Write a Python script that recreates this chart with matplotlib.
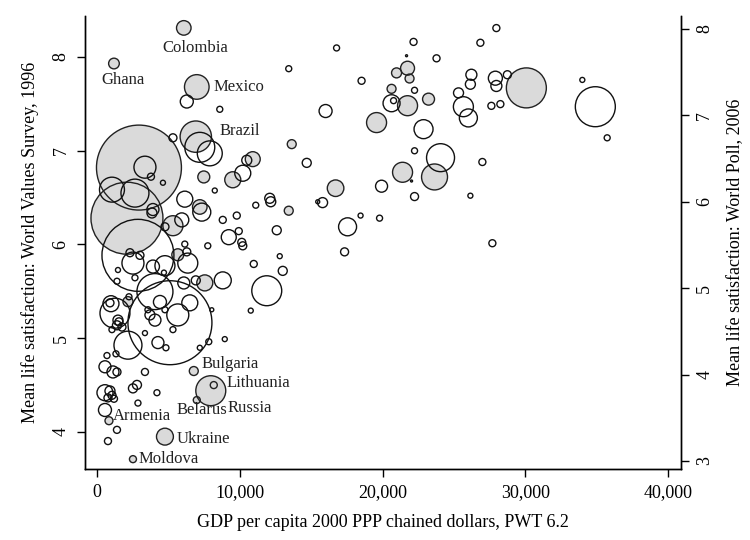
import numpy as np
import matplotlib
matplotlib.use("Agg")
import matplotlib.pyplot as plt
from matplotlib.ticker import FuncFormatter

plt.rcParams['font.family'] = ['Liberation Serif', 'DejaVu Serif']

# World Values Survey 1996 (grey, left axis): GDP, satisfaction, population (millions)
wvs_names = ['Colombia', 'Ghana', 'Mexico', 'Brazil', 'China', 'India',
             '', '', '', '', '', '', '', '', '', '', '', '', '', '', '', '', '', '', '', '', '',
             'Bulgaria', 'Russia', 'Lithuania', 'Belarus', 'Ukraine', 'Moldova', 'Armenia']
wvs_gdp = [6080, 1190, 6990, 6920, 2940, 2100,
           13640, 13430, 16710, 7200, 7480, 9510, 10910, 19580, 21750, 20980, 21750,
           21890, 20630, 23220, 30070, 21400, 23640, 7550, 5660, 5320, 2170,
           6780, 7970, 8180, 6990, 4760, 2520, 840]
wvs_sat = [8.31, 7.93, 7.68, 7.15, 6.82, 6.28,
           7.07, 6.36, 6.60, 6.40, 6.72, 6.69, 6.91, 7.30, 7.48, 7.83, 7.88,
           7.77, 7.66, 7.55, 7.67, 6.77, 6.72, 5.59, 5.89, 6.20, 5.39,
           4.65, 4.44, 4.50, 4.34, 3.95, 3.71, 4.12]
wvs_pop = [37, 20, 106, 172, 1264, 907,
           14, 14, 48, 37, 25, 45, 39, 70, 70, 17.5, 34,
           14, 14, 25, 280, 70, 118, 45, 25, 70, 17.5,
           14, 157, 8.6, 8.6, 50, 8.6, 11]

# label offsets in points (dx, dy, ha)
label_pos = {
    'Colombia': (8.6, -14.4, 'center'),
    'Ghana': (6.5, -12.2, 'center'),
    'Mexico': (12, 0, 'left'),
    'Brazil': (17, 4.3, 'left'),
    'Bulgaria': (5.8, 5, 'left'),
    'Lithuania': (9.4, 1.4, 'left'),
    'Russia': (12.2, -12.2, 'left'),
    'Belarus': (-14.4, -7.2, 'left'),
    'Armenia': (2.9, 3.6, 'left'),
    'Ukraine': (8.6, -1.4, 'left'),
    'Moldova': (4.3, 0, 'left'),
}

# Gallup World Poll 2006 (hollow, right axis)
poll_gdp = [6290, 8600, 13430, 16780, 16010, 5320, 7200, 7900, 14690, 10490,
            10210, 3360, 3780, 4620, 8250, 1050, 2660, 6150, 7340, 3920,
            3850, 12100, 12170, 15460, 15800, 11120, 8810, 9790, 12590, 5940,
            4760, 9230, 9930, 10140, 10210, 6150, 7760, 18460, 17550, 17340,
            12800, 10980, 13010, 11890, 10770, 8950, 27970, 22170, 26850, 21680,
            23780, 18530, 26220, 26150, 27900, 27970, 28740, 22240, 25320, 20770,
            20630, 25660, 26010, 27620, 28250, 22870, 33990, 34900, 35730, 22240,
            24060, 26990, 22030, 19930, 22240, 26150, 19790, 27690, 2310, 3010,
            2520, 2660, 1470, 1400, 3920, 4760, 4690, 6290, 6360, 6080,
            6920, 8810, 4060, 910, 1260, 2240, 3570, 4410, 4760, 6500,
            5660, 4060, 8040, 5320, 5110, 3710, 1470, 1400, 1540, 1750,
            1050, 3360, 4270, 4830, 2170, 7200, 7830, 700, 1330, 560,
            1120, 1400, 3360, 2800, 2520, 4200, 2870, 560, 910, 1050,
            770, 1190, 560, 1400, 770, 980, 2870]
poll_sat = [7.16, 7.07, 7.54, 7.78, 7.05, 6.74, 6.63, 6.56, 6.45, 6.48,
            6.33, 6.40, 6.29, 6.22, 6.13, 6.14, 6.10, 6.03, 5.88, 5.91,
            5.87, 6.04, 6.00, 6.00, 5.99, 5.96, 5.79, 5.84, 5.67, 5.79,
            5.71, 5.59, 5.66, 5.53, 5.49, 5.51, 5.49, 5.84, 5.71, 5.42,
            5.37, 5.28, 5.20, 4.97, 4.74, 4.41, 8.01, 7.85, 7.84, 7.69,
            7.66, 7.40, 7.47, 7.36, 7.43, 7.34, 7.47, 7.29, 7.26, 7.17,
            7.14, 7.10, 6.97, 7.11, 7.13, 6.84, 7.41, 7.10, 6.74, 6.59,
            6.51, 6.46, 6.24, 6.18, 6.06, 6.07, 5.81, 5.52, 5.41, 5.38,
            5.29, 5.12, 5.21, 5.08, 5.25, 5.26, 5.18, 5.42, 5.29, 5.06,
            5.09, 5.09, 4.96, 4.83, 4.71, 4.90, 4.75, 4.84, 4.75, 4.83,
            4.69, 4.63, 4.75, 4.52, 4.60, 4.69, 4.63, 4.57, 4.61, 4.55,
            4.52, 4.48, 4.37, 4.31, 4.34, 4.31, 4.38, 4.22, 4.24, 4.09,
            4.03, 4.03, 4.03, 3.88, 3.84, 3.79, 3.67, 3.79, 3.81, 3.76,
            3.73, 3.72, 3.59, 3.36, 3.23, 4.82, 5.38]
poll_pop = [29.6, 6.3, 6.3, 6.3, 29.6, 11.2, 157, 109, 14.2, 17.5,
            44.8, 84.7, 8.6, 4.4, 4.4, 109, 137, 44.8, 56.7, 25.2,
            17.5, 17.5, 17.5, 2.8, 17.5, 6.3, 8.6, 8.6, 14.2, 34.3,
            11.2, 39.4, 8.6, 11.2, 11.2, 6.3, 6.3, 4.4, 56.7, 11.2,
            4.4, 8.6, 14.2, 157, 4.4, 4.4, 8.6, 8.6, 8.6, 0.7,
            8.6, 8.6, 21.2, 17.5, 34.3, 21.2, 11.2, 6.3, 17.5, 6.3,
            50.6, 70, 56.7, 8.6, 8.6, 63.2, 4.4, 280, 6.3, 6.3,
            137, 8.6, 0.7, 25.2, 11.2, 4.4, 6.3, 8.6, 11.2, 11.2,
            84.7, 6.3, 4.4, 6.3, 29.6, 70, 4.4, 11.2, 70, 25.2,
            14.2, 50.6, 227, 11.2, 157, 6.3, 6.3, 29.6, 6.3, 44.8,
            84.7, 25.2, 2.8, 6.3, 1235, 17.5, 17.5, 14.2, 11.2, 11.2,
            6.3, 4.4, 25.2, 6.3, 137, 4.4, 6.3, 6.3, 6.3, 25.2,
            25.2, 11.2, 8.6, 14.2, 14.2, 6.3, 6.3, 44.8, 17.5, 11.2,
            11.2, 8.6, 29.6, 8.6, 8.6, 44.8, 907]

size_scale = 2.96  # points^2 per million people

fig = plt.figure(figsize=(7.5, 5.4), dpi=100)
ax = fig.add_axes([0.1133, 0.1315, 0.7947, 0.8389])
ax2 = ax.twinx()

wvs_s = np.array(wvs_pop) * size_scale
ax.scatter(wvs_gdp, wvs_sat, s=wvs_s, facecolor='#dadada', edgecolor='none', zorder=2)
ax.scatter(wvs_gdp, wvs_sat, s=wvs_s, facecolor='none', edgecolor='#222222', linewidths=1.0, zorder=3)

for name, gx, gy in zip(wvs_names, wvs_gdp, wvs_sat):
    if name in label_pos:
        dx, dy, ha = label_pos[name]
        ax.annotate(name, (gx, gy), xytext=(dx, dy), textcoords='offset points',
                    ha=ha, va='center', fontsize=12, color='#222222', zorder=4)

ax2.scatter(poll_gdp, poll_sat, s=np.array(poll_pop) * size_scale, facecolor='none',
            edgecolor='#111111', linewidths=1.0)

ax.set_xlim(-840, 40900)
ax.set_ylim(3.605, 8.437)
ax2.set_ylim(2.907, 8.15)

ax.set_xticks([0, 10000, 20000, 30000, 40000])
ax.xaxis.set_major_formatter(FuncFormatter(lambda v, p: f'{int(v):,}'))
ax.set_yticks([4, 5, 6, 7, 8])
ax2.set_yticks([3, 4, 5, 6, 7, 8])

for a in (ax, ax2):
    a.spines['top'].set_visible(False)
    for sp in a.spines.values():
        sp.set_linewidth(1.0)
    a.tick_params(length=6, width=1.0, labelsize=13, pad=5)
for lab in ax.get_yticklabels() + ax2.get_yticklabels():
    lab.set_rotation(90)
    lab.set_va('center')

ax.set_xlabel('GDP per capita 2000 PPP chained dollars, PWT 6.2', fontsize=13, labelpad=9)
ax.set_ylabel('Mean life satisfaction: World Values Survey, 1996', fontsize=13, labelpad=10)
ax2.set_ylabel('Mean life satisfaction: World Poll, 2006', fontsize=13, labelpad=10)

fig.savefig('out.png', dpi=100)
